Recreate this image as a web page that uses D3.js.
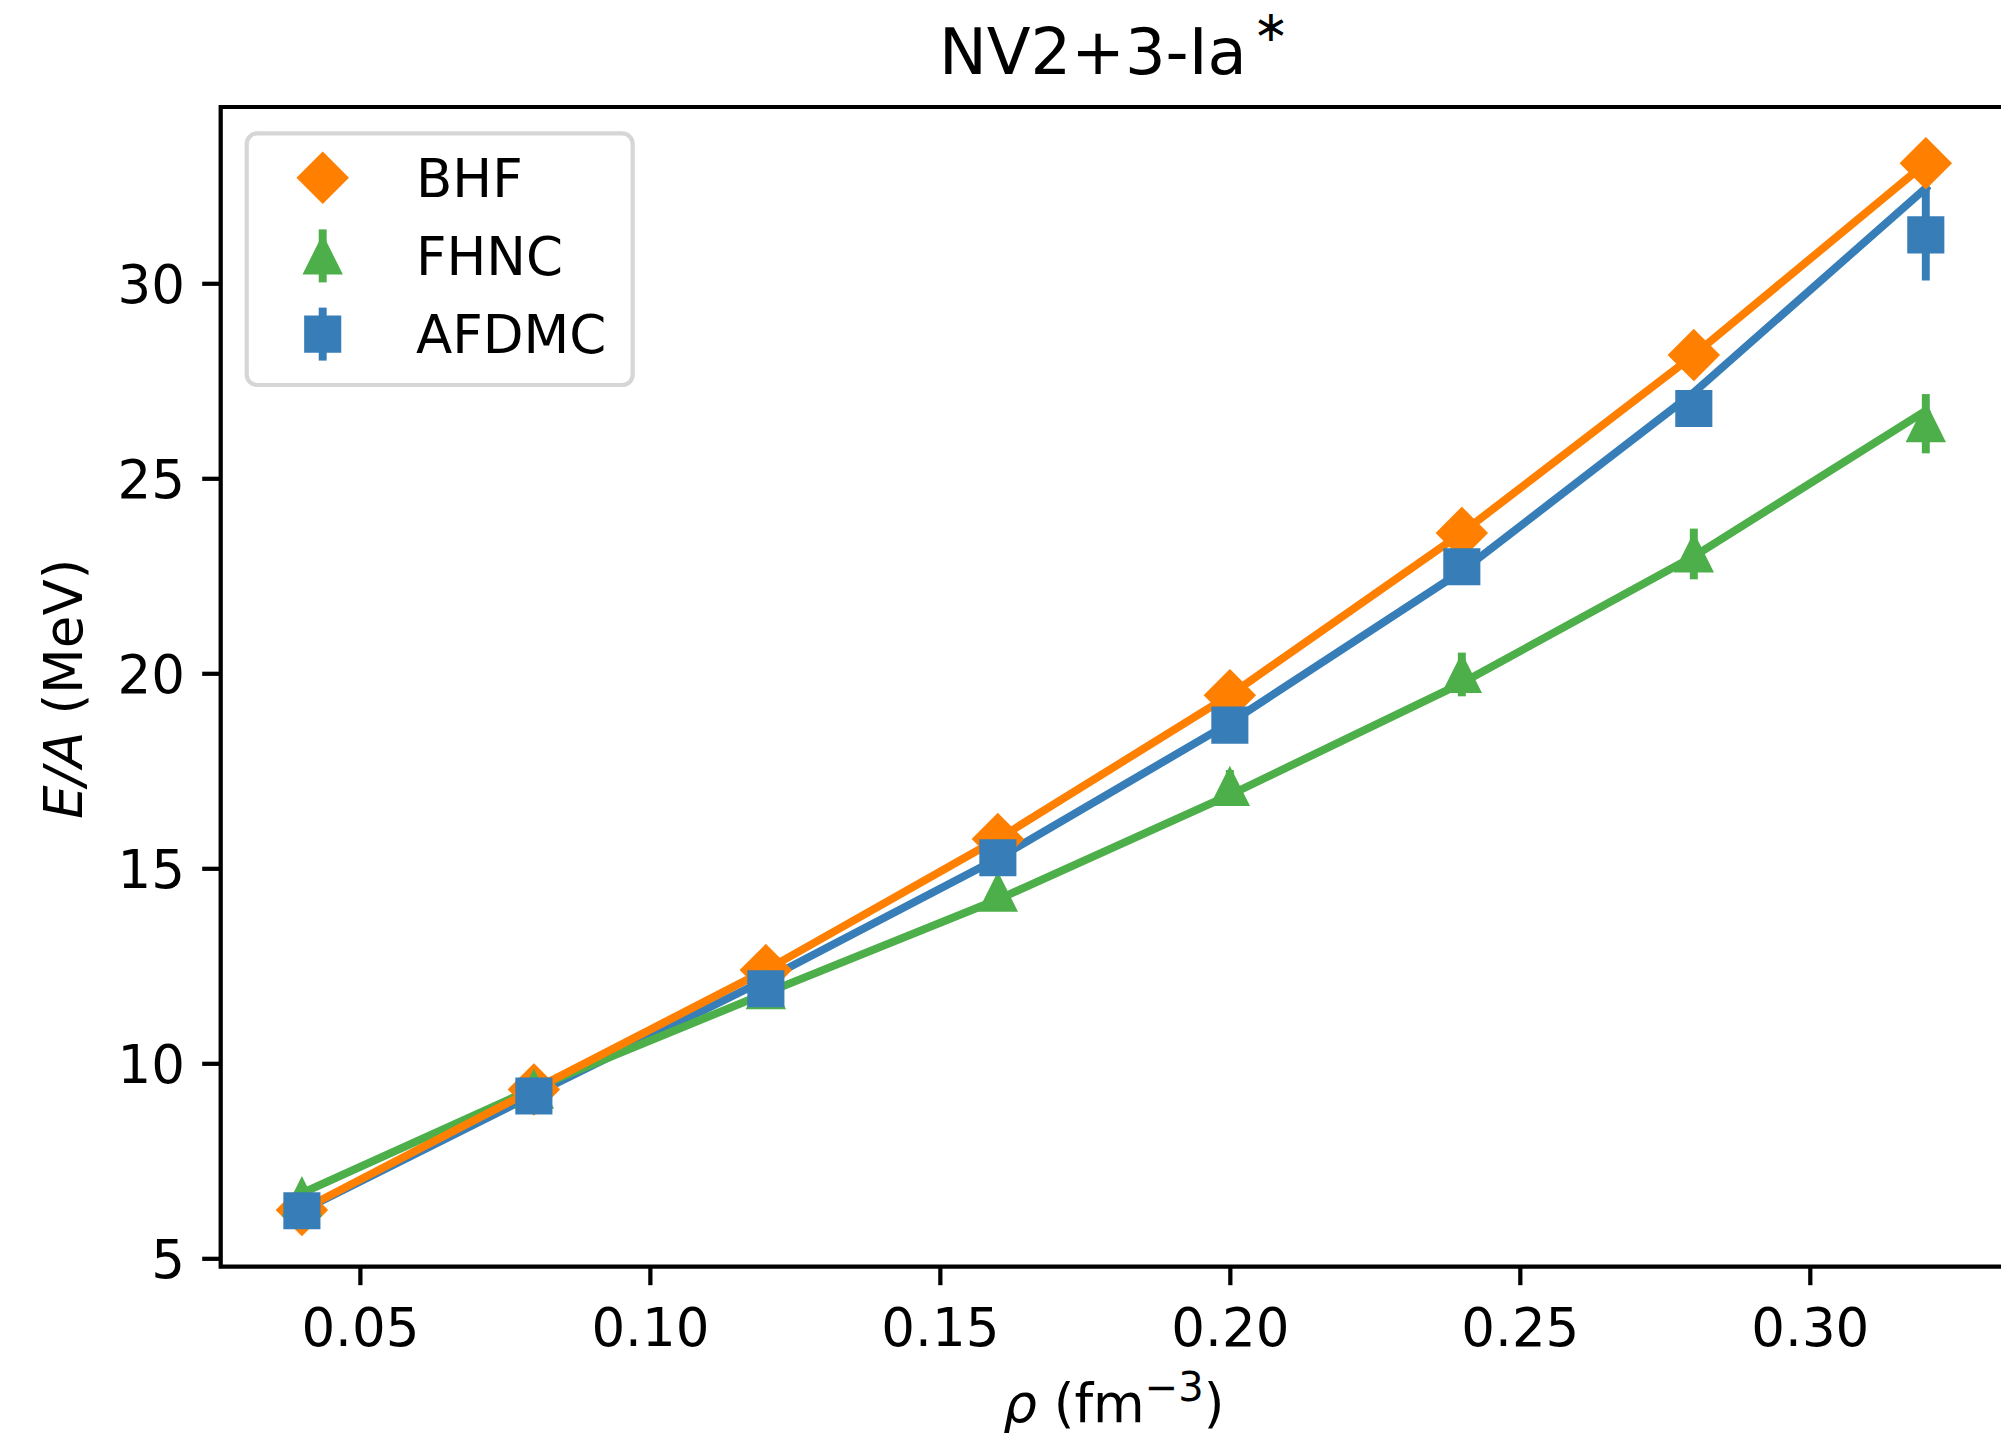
<!DOCTYPE html>
<html>
<head>
<meta charset="utf-8">
<script src="https://cdn.jsdelivr.net/npm/d3@7"></script>
<style>
  html, body { margin: 0; padding: 0; background: #fff; }
  svg { display: block; }
  text { font-family: "DejaVu Sans", sans-serif; fill: #000; }
</style>
</head>
<body>
<svg id="chart" width="2001" height="1439"></svg>
<script>
// Neutron-matter energy per particle for the NV2+3-Ia* interaction
const densities = [0.04, 0.08, 0.12, 0.16, 0.20, 0.24, 0.28, 0.32];

// BHF points and connecting curve
const bhfValues = [6.24, 9.33, 12.39, 15.75, 19.44, 23.60, 28.16, 33.08];
const bhfCurve  = [6.24, 9.33, 12.39, 15.75, 19.44, 23.60, 28.16, 33.08];

// FHNC points (with statistical errors) and curve
const fhncValues = [6.55, 9.31, 11.86, 14.36, 17.07, 19.97, 23.06, 26.40];
const fhncErrors = [0.10, 0.15, 0.25, 0.30, 0.45, 0.56, 0.65, 0.76];
const fhncCurve  = [6.67, 9.36, 11.80, 14.20, 16.88, 19.75, 23.00, 26.73];

// AFDMC points (with statistical errors) and curve
const afdmcValues = [6.22, 9.16, 11.91, 15.27, 18.67, 22.73, 26.79, 31.24];
const afdmcErrors = [0.05, 0.08, 0.10, 0.15, 0.20, 0.30, 0.40, 1.17];
const afdmcCurve  = [6.22, 9.20, 12.15, 15.25, 18.73, 22.62, 27.20, 32.44];

const xTicks = [0.05, 0.10, 0.15, 0.20, 0.25, 0.30];
const yTicks = [5, 10, 15, 20, 25, 30];
const legendLabels = ["BHF", "FHNC", "AFDMC"];

const COLORS = { bhf: "#ff7f00", fhnc: "#4daf4a", afdmc: "#377eb8" };

// ---- layout ----
const plot = { left: 220.7, right: 2007, top: 107, bottom: 1266.7 };
const FS = 53;           // tick / label font size
const LW = 7.95;         // line width
const MEW = 5.3;         // marker edge width
const MS = 31.8;         // marker size
const TICK = 18.5;

const svg = d3.select("#chart");

const x = d3.scaleLinear().domain([0.026, 0.334]).range([plot.left, plot.right]);
const y = d3.scaleLinear().domain([4.785, 34.52]).range([plot.bottom, plot.top]);

// ---- marker shapes ----
function diamondPath(s) {
  const h = s / Math.SQRT2;
  return `M0,${-h}L${h},0L0,${h}L${-h},0Z`;
}
function squarePath(s) {
  const h = s / 2;
  return `M${-h},${-h}L${h},${-h}L${h},${h}L${-h},${h}Z`;
}
function trianglePath(s) {
  const h = s / 2;
  return `M0,${-h}L${h},${h}L${-h},${h}Z`;
}
const shapes = { bhf: diamondPath(MS), fhnc: trianglePath(MS), afdmc: squarePath(MS) };

// ---- axes ----
const gx = svg.append("g")
  .attr("transform", `translate(0,${plot.bottom})`)
  .call(d3.axisBottom(x).tickValues(xTicks).tickSize(TICK).tickSizeOuter(0)
        .tickFormat(d3.format(".2f")));
gx.select(".domain").remove();
gx.attr("font-family", null).attr("font-size", null);
gx.selectAll(".tick line").attr("stroke", "#000").attr("stroke-width", 4.24);
gx.selectAll(".tick text")
  .attr("y", 79.3).attr("dy", null)
  .attr("font-size", FS).attr("fill", "#000")
  .style("font-family", '"DejaVu Sans", sans-serif');

const gy = svg.append("g")
  .attr("transform", `translate(${plot.left},0)`)
  .call(d3.axisLeft(y).tickValues(yTicks).tickSize(TICK).tickSizeOuter(0)
        .tickFormat(d3.format("d")));
gy.select(".domain").remove();
gy.attr("font-family", null).attr("font-size", null);
gy.selectAll(".tick line").attr("stroke", "#000").attr("stroke-width", 4.24);
gy.selectAll(".tick text")
  .attr("x", -(plot.left - 185)).attr("dy", null).attr("y", 19.3)
  .attr("text-anchor", "end")
  .attr("font-size", FS).attr("fill", "#000")
  .style("font-family", '"DejaVu Sans", sans-serif');

// ---- curves ----
const line = d3.line().x(d => x(d[0])).y(d => y(d[1]));
const curves = [
  { key: "afdmc", vals: afdmcCurve },
  { key: "fhnc",  vals: fhncCurve },
  { key: "bhf",   vals: bhfCurve }
];
const gLines = svg.append("g");
curves.forEach(c => {
  gLines.append("path")
    .attr("d", line(densities.map((d, i) => [d, c.vals[i]])))
    .attr("fill", "none")
    .attr("stroke", COLORS[c.key])
    .attr("stroke-width", LW)
    .attr("stroke-linejoin", "round")
    .attr("stroke-linecap", "square");
});

// ---- points with error bars ----
const series = [
  { key: "bhf",   vals: bhfValues,   errs: null },
  { key: "fhnc",  vals: fhncValues,  errs: fhncErrors },
  { key: "afdmc", vals: afdmcValues, errs: afdmcErrors }
];
series.forEach(s => {
  const g = svg.append("g");
  const pts = densities.map((d, i) => ({ d, v: s.vals[i], e: s.errs ? s.errs[i] : 0 }));
  if (s.errs) {
    g.selectAll("line.err").data(pts).join("line")
      .attr("class", "err")
      .attr("x1", p => x(p.d)).attr("x2", p => x(p.d))
      .attr("y1", p => y(p.v - p.e)).attr("y2", p => y(p.v + p.e))
      .attr("stroke", COLORS[s.key]).attr("stroke-width", LW);
  }
  g.selectAll("path.mk").data(pts).join("path")
    .attr("class", "mk")
    .attr("d", shapes[s.key])
    .attr("transform", p => `translate(${x(p.d)},${y(p.v)})`)
    .attr("fill", COLORS[s.key])
    .attr("stroke", COLORS[s.key])
    .attr("stroke-width", MEW)
    .attr("stroke-linejoin", "miter");
});

// ---- frame (left, top, bottom spines) ----
svg.append("path")
  .attr("d", `M${plot.right + 10},${plot.top}H${plot.left}V${plot.bottom}H${plot.right + 10}`)
  .attr("fill", "none").attr("stroke", "#000").attr("stroke-width", 4.24)
  .attr("stroke-linecap", "square");

// ---- legend ----
const leg = svg.append("g");
leg.append("rect")
  .attr("x", 246.7).attr("y", 133.3).attr("width", 386).attr("height", 251.7)
  .attr("rx", 10.6).attr("ry", 10.6)
  .attr("fill", "#fff").attr("fill-opacity", 0.8)
  .attr("stroke", "#d6d6d6").attr("stroke-width", 4.24);
const legKeys = ["bhf", "fhnc", "afdmc"];
legKeys.forEach((k, i) => {
  const cy = 177.7 + i * 78.2;
  const g = leg.append("g").attr("transform", `translate(322.7,${cy})`);
  if (k !== "bhf") {
    g.append("line").attr("x1", 0).attr("x2", 0).attr("y1", -26.5).attr("y2", 26.5)
      .attr("stroke", COLORS[k]).attr("stroke-width", LW);
  }
  g.append("path").attr("d", shapes[k])
    .attr("fill", COLORS[k]).attr("stroke", COLORS[k])
    .attr("stroke-width", MEW).attr("stroke-linejoin", "miter");
  leg.append("text")
    .attr("x", 416).attr("y", cy + 19.2)
    .attr("font-size", FS)
    .text(legendLabels[i]);
});

// ---- title ----
const title = svg.append("text")
  .attr("x", (plot.left + plot.right) / 2).attr("y", 74)
  .attr("text-anchor", "middle").attr("font-size", 64);
title.append("tspan").text("NV2+3-Ia");
title.append("tspan").attr("font-size", 43).attr("dy", -33).attr("dx", 6).text("\u2217");

// ---- axis labels ----
const xl = svg.append("text")
  .attr("x", (plot.left + plot.right) / 2).attr("y", 1421.7)
  .attr("text-anchor", "middle").attr("font-size", FS);
xl.append("tspan").attr("font-style", "italic").text("\u03c1");
xl.append("tspan").text(" (fm");
xl.append("tspan").attr("font-size", 40).attr("dy", -21).text("\u22123");
xl.append("tspan").attr("dy", 21).text(")");

const yl = svg.append("text")
  .attr("transform", `translate(81.7,${(plot.top + plot.bottom) / 2 + 2}) rotate(-90)`)
  .attr("text-anchor", "middle").attr("font-size", FS);
yl.append("tspan").attr("font-style", "italic").text("E/A");
yl.append("tspan").text(" (MeV)");
</script>
</body>
</html>
